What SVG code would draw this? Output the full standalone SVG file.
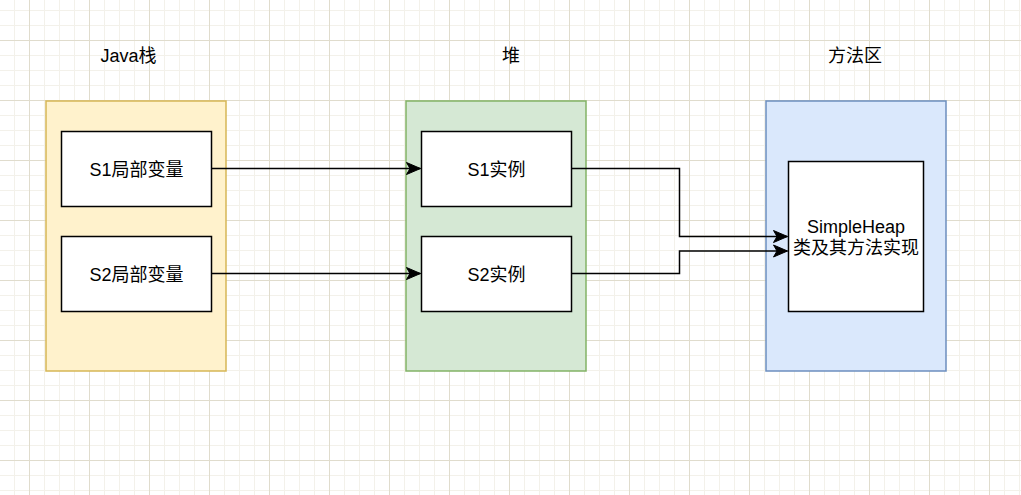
<svg xmlns="http://www.w3.org/2000/svg" width="1021" height="495" viewBox="0 0 1021 495">
<style>
.t{font-family:"Liberation Sans","Noto Sans CJK SC",sans-serif;font-size:18px;fill:#000;text-anchor:middle}
.box{fill:#fff;stroke:#000;stroke-width:1.5}
.edge{fill:none;stroke:#000;stroke-width:1.5}
</style>
<defs>
<pattern id="minor" x="29" y="40" width="15" height="15" patternUnits="userSpaceOnUse">
<path d="M0.5,0V15M0,0.5H15" stroke="#f3f1ea" stroke-width="1" fill="none"/>
</pattern>
<pattern id="major" x="29" y="40" width="60" height="60" patternUnits="userSpaceOnUse">
<path d="M0.5,0V60M0,0.5H60" stroke="#e0dccd" stroke-width="1" fill="none"/>
</pattern>
<marker id="arr" markerUnits="userSpaceOnUse" markerWidth="16" markerHeight="14" viewBox="-15 -7 16 14" refX="0" refY="0" orient="auto">
<path d="M0,0L-14,-6L-10.5,0L-14,6Z" fill="#000" stroke="#000" stroke-width="1"/>
</marker>
</defs>
<rect width="1021" height="495" fill="#fff"/>
<rect width="1021" height="495" fill="url(#minor)"/>
<rect width="1021" height="495" fill="url(#major)"/>

<g id="title-java"><text class="t" x="128.5" y="62">Java栈</text></g>
<g id="title-heap"><text class="t" x="511" y="62">堆</text></g>
<g id="title-method"><text class="t" x="855" y="62">方法区</text></g>

<g id="container-java"><rect x="46" y="101" width="180" height="270" fill="#fff2cc" stroke="#d6b656" stroke-width="1.5"/></g>
<g id="container-heap"><rect x="406" y="101" width="180" height="270" fill="#d5e8d4" stroke="#82b366" stroke-width="1.5"/></g>
<g id="container-method"><rect x="766" y="101" width="180" height="270" fill="#dae8fc" stroke="#6c8ebf" stroke-width="1.5"/></g>

<g id="s1-local"><rect class="box" x="61.5" y="131.5" width="150" height="75"/><text class="t" x="136.5" y="175.5">S1局部变量</text></g>
<g id="s2-local"><rect class="box" x="61.5" y="236.5" width="150" height="75"/><text class="t" x="136.5" y="280.5">S2局部变量</text></g>
<g id="s1-instance"><rect class="box" x="421.5" y="131.5" width="150" height="75"/><text class="t" x="496.5" y="175.5">S1实例</text></g>
<g id="s2-instance"><rect class="box" x="421.5" y="236.5" width="150" height="75"/><text class="t" x="496.5" y="280.5">S2实例</text></g>
<g id="simpleheap"><rect class="box" x="788.5" y="161.5" width="135" height="150"/><text class="t" x="856" y="233">SimpleHeap</text><text class="t" x="856" y="254">类及其方法实现</text></g>

<g id="connectors">
<path class="edge" d="M211.5,168.5H420.5" marker-end="url(#arr)"/>
<path class="edge" d="M211.5,273.5H420.5" marker-end="url(#arr)"/>
<path class="edge" d="M571.5,168.5H679.5V236.5H787.5" marker-end="url(#arr)"/>
<path class="edge" d="M571.5,273.5H679.5V251H787.5" marker-end="url(#arr)"/>
</g>
</svg>
